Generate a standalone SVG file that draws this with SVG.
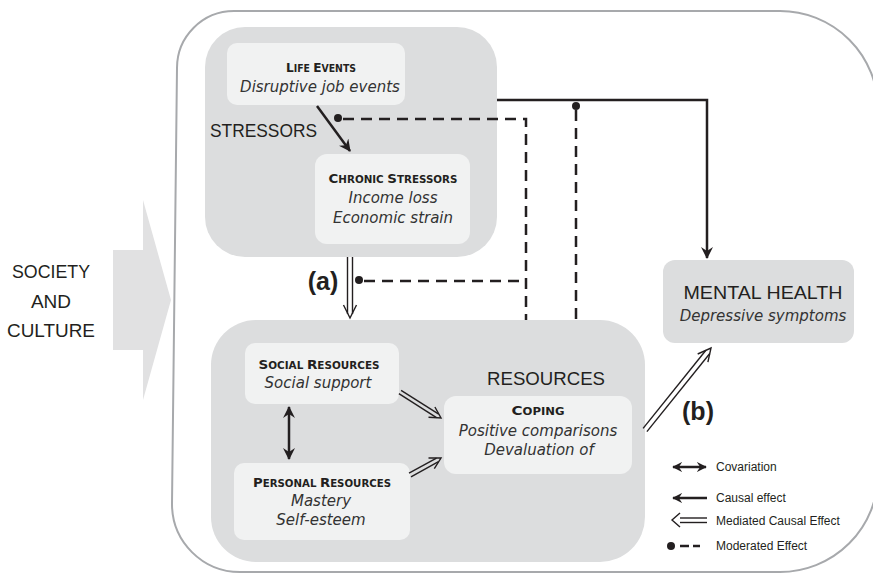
<svg xmlns="http://www.w3.org/2000/svg" width="873" height="575" viewBox="0 0 873 575">
<defs>
<style>
.lbl{font-family:"Liberation Sans",Arial,sans-serif;fill:#231f20}
.it{font-family:"DejaVu Sans",sans-serif;font-style:italic;font-size:15px;fill:#333333;text-anchor:middle}
.hd{font-family:"DejaVu Sans",sans-serif;font-weight:bold;font-size:10px;fill:#231f20;text-anchor:middle}
.hd .c{font-size:13px}
.big{fill:#dcddde}
.inner{fill:#f1f2f2}
.solid{fill:none;stroke:#231f20;stroke-width:2.5}
.dash{fill:none;stroke:#231f20;stroke-width:2.5;stroke-dasharray:11 7}
.med{fill:none;stroke:#231f20;stroke-width:1.4}
.dot{fill:#231f20}
.leg{font-family:"Liberation Sans",Arial,sans-serif;font-size:12px;fill:#231f20}
</style>
<marker id="ah" viewBox="0 0 12 12" refX="11" refY="6" markerWidth="12" markerHeight="12" markerUnits="userSpaceOnUse" orient="auto-start-reverse">
<path d="M0,0 L12,6 L0,12 L4,6 z" fill="#231f20"/>
</marker>
<marker id="ahs" viewBox="0 0 12 12" refX="11" refY="6" markerWidth="10" markerHeight="10" markerUnits="userSpaceOnUse" orient="auto-start-reverse">
<path d="M0,0 L12,6 L0,12 L4,6 z" fill="#231f20"/>
</marker>
</defs>
<rect width="873" height="575" fill="#ffffff"/>

<g id="society">
<polygon points="113,250 143,250 143,200 171,300 143,400 143,350 113,350" fill="#e1e1e2"/>
<text class="lbl" font-size="19" text-anchor="middle"><tspan x="51" y="278" textLength="78" lengthAdjust="spacingAndGlyphs">SOCIETY</tspan><tspan x="51" y="308">AND</tspan><tspan x="51" y="337" textLength="88" lengthAdjust="spacingAndGlyphs">CULTURE</tspan></text>
</g>

<g id="context">
<path d="M236,11 H780 A98,98 0 0 1 878,109 V474 A98,98 0 0 1 780,572 H240 A68,68 0 0 1 172,504 L177,68 A57,57 0 0 1 234,11 Z" fill="none" stroke="#a7a9ac" stroke-width="2"/>
</g>

<g id="stressors">
<rect class="big" x="205" y="27" width="292" height="230" rx="40"/>
<text class="lbl" x="210" y="137" font-size="19" textLength="107" lengthAdjust="spacingAndGlyphs">STRESSORS</text>
</g>

<g id="life-events">
<rect class="inner" x="227" y="43" width="178" height="62" rx="10"/>
<text class="hd" x="321" y="72" textLength="70" lengthAdjust="spacingAndGlyphs"><tspan class="c">L</tspan>IFE <tspan class="c">E</tspan>VENTS</text>
<text class="it" x="320" y="92">Disruptive job events</text>
</g>

<g id="chronic-stressors">
<rect class="inner" x="315" y="154" width="155" height="90" rx="12"/>
<text class="hd" x="393" y="183" textLength="129" lengthAdjust="spacingAndGlyphs"><tspan class="c">C</tspan>HRONIC <tspan class="c">S</tspan>TRESSORS</text>
<text class="it" x="393" y="203">Income loss</text>
<text class="it" x="393" y="223">Economic strain</text>
</g>

<g id="resources">
<rect class="big" x="211" y="320" width="434" height="242" rx="45"/>
<text class="lbl" x="546" y="385" font-size="19" text-anchor="middle" textLength="118" lengthAdjust="spacingAndGlyphs">RESOURCES</text>
</g>

<g id="social-resources">
<rect class="inner" x="245" y="343" width="154" height="61" rx="10"/>
<text class="hd" x="319" y="369" textLength="121" lengthAdjust="spacingAndGlyphs"><tspan class="c">S</tspan>OCIAL <tspan class="c">R</tspan>ESOURCES</text>
<text class="it" x="318" y="388">Social support</text>
</g>

<g id="personal-resources">
<rect class="inner" x="234" y="463" width="176" height="77" rx="10"/>
<text class="hd" x="322" y="487" textLength="138" lengthAdjust="spacingAndGlyphs"><tspan class="c">P</tspan>ERSONAL <tspan class="c">R</tspan>ESOURCES</text>
<text class="it" x="321" y="506">Mastery</text>
<text class="it" x="321" y="525">Self-esteem</text>
</g>

<g id="coping">
<rect class="inner" x="444" y="396" width="188" height="78" rx="12"/>
<text class="hd" x="538" y="415" textLength="53" lengthAdjust="spacingAndGlyphs"><tspan class="c">C</tspan>OPING</text>
<text class="it" x="538" y="436">Positive comparisons</text>
<text class="it" x="539" y="455">Devaluation of</text>
</g>

<g id="mental-health">
<rect class="big" x="663" y="260" width="191" height="83" rx="12"/>
<text class="lbl" x="763" y="299" font-size="19" text-anchor="middle" textLength="159" lengthAdjust="spacingAndGlyphs">MENTAL HEALTH</text>
<text class="it" x="763" y="321">Depressive symptoms</text>
</g>

<g id="connectors">
<line class="solid" x1="317" y1="106" x2="350" y2="151" marker-end="url(#ah)"/>
<path class="solid" d="M497,100 H707 V258" marker-end="url(#ah)"/>
<line class="med" x1="347.5" y1="257" x2="347.5" y2="314"/>
<line class="med" x1="352.5" y1="257" x2="352.5" y2="314"/>
<polyline class="med" points="343.5,305 350,318 356.5,305"/>
<path class="dash" d="M343,119 H526 V320"/>
<path class="dash" d="M364,281 H526"/>
<circle class="dot" cx="338" cy="118" r="4"/>
<circle class="dot" cx="359" cy="280" r="4"/>
<path class="dash" d="M576,110 V320"/>
<circle class="dot" cx="576" cy="106" r="4"/>
<line class="solid" x1="289" y1="407" x2="289" y2="459" marker-start="url(#ah)" marker-end="url(#ah)"/>
<line class="med" x1="398.9" y1="393.7" x2="436.5" y2="417.6"/>
<line class="med" x1="401.1" y1="390.3" x2="438.7" y2="414.2"/>
<polyline class="med" stroke-width="2" points="428.5,417.2 441,418 434.9,407"/>
<line class="med" x1="409" y1="473.2" x2="436.5" y2="458.2"/>
<line class="med" x1="411" y1="476.8" x2="438.5" y2="461.7"/>
<polyline class="med" stroke-width="2" points="434.3,468.6 441,458 428.5,458"/>
<line class="med" x1="646.9" y1="431.6" x2="709.8" y2="353.5"/>
<line class="med" x1="643.1" y1="428.4" x2="705.9" y2="350.3"/>
<polyline class="med" stroke-width="1.6" points="707.9,362.2 711,348 697.7,354"/>
</g>

<g id="labels">
<text class="lbl" x="323" y="290" font-size="25" font-weight="bold" text-anchor="middle">(a)</text>
<text class="lbl" x="698" y="420" font-size="25" font-weight="bold" text-anchor="middle">(b)</text>
</g>

<g id="legend">
<line class="solid" x1="673" y1="467" x2="706" y2="467" marker-start="url(#ahs)" marker-end="url(#ahs)"/>
<text class="leg" x="716" y="471">Covariation</text>
<line class="solid" x1="707" y1="498" x2="673" y2="498" marker-end="url(#ahs)"/>
<text class="leg" x="716" y="502">Causal effect</text>
<line class="med" x1="680" y1="518" x2="707" y2="518"/>
<line class="med" x1="680" y1="522.5" x2="707" y2="522.5"/>
<polyline class="med" points="680,513 672,520 680,527"/>
<text class="leg" x="716" y="525">Mediated Causal Effect</text>
<circle class="dot" cx="671" cy="546" r="4"/>
<line class="solid" x1="680" y1="546" x2="689" y2="546"/>
<line class="solid" x1="693" y1="546" x2="700" y2="546"/>
<text class="leg" x="716" y="550">Moderated Effect</text>
</g>
</svg>
